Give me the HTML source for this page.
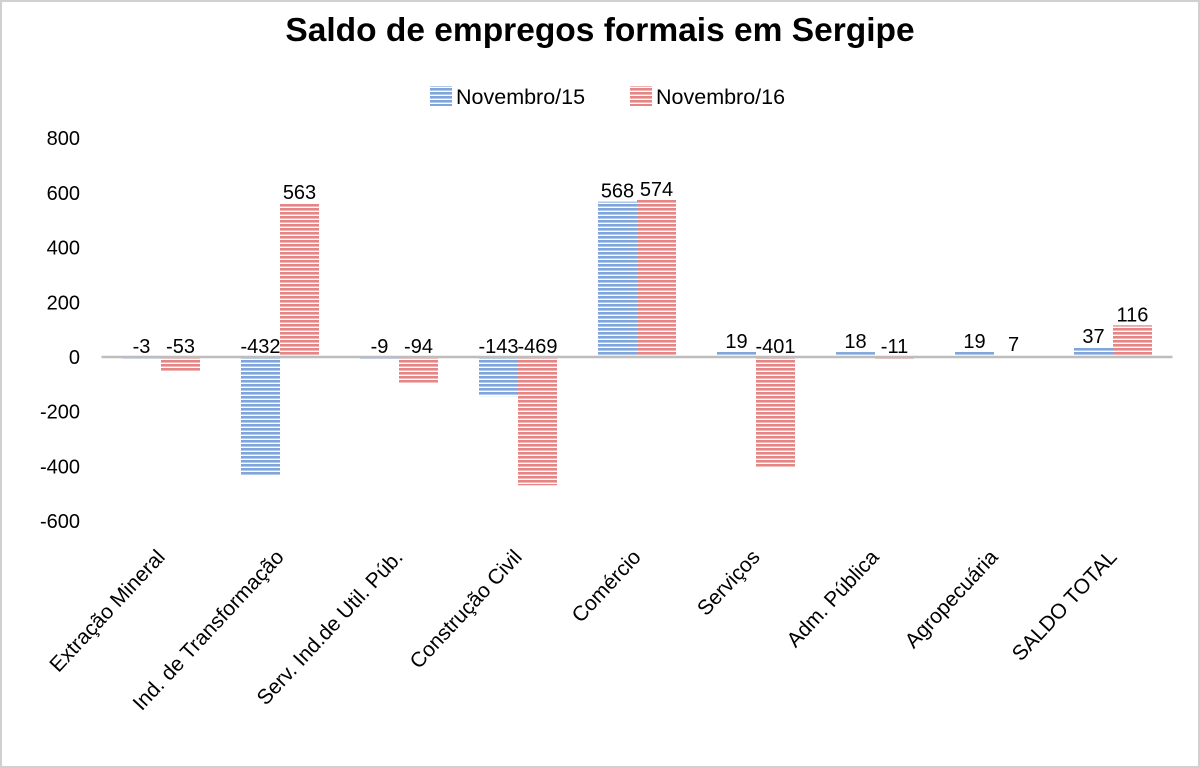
<!DOCTYPE html>
<html><head><meta charset="utf-8"><style>
html,body{margin:0;padding:0;background:#fff;}
svg{display:block;font-family:"Liberation Sans",sans-serif;}
</style></head><body>
<svg id="chart" width="1200" height="768" viewBox="0 0 1200 768" xmlns="http://www.w3.org/2000/svg">
<defs>
<pattern id="pb" width="6" height="4" patternUnits="userSpaceOnUse"><rect width="6" height="4" fill="#fff"/><rect width="6" height="2.6" fill="#7fa5dc"/></pattern>
<pattern id="pr" width="6" height="4" patternUnits="userSpaceOnUse"><rect width="6" height="4" fill="#fff"/><rect width="6" height="2.6" fill="#e58585"/></pattern>
</defs>
<rect x="1" y="1" width="1198" height="766" fill="#fff" stroke="#d0d0d0" stroke-width="2"/>
<text x="600" y="41" text-anchor="middle" font-size="33.5" font-weight="bold" fill="#000">Saldo de empregos formais em Sergipe</text>
<g>
<rect x="430" y="86" width="22" height="20" fill="url(#pb)"/>
<text x="456" y="104" font-size="21.5">Novembro/15</text>
<rect x="630" y="86" width="22" height="20" fill="url(#pr)"/>
<text x="656" y="104" font-size="21.5">Novembro/16</text>
</g>
<g id="yaxis"></g>
<g id="bars"></g>
<g id="xaxis"></g>
</svg>
<script>
const categories=["Extração Mineral","Ind. de Transformação","Serv. Ind.de Util. Púb.","Construção Civil","Comércio","Serviços","Adm. Pública","Agropecuária","SALDO TOTAL"];
const nov15=[-3,-432,-9,-143,568,19,18,19,37];
const nov16=[-53,563,-94,-469,574,-401,-11,7,116];
const yTicks=[800,600,400,200,0,-200,-400,-600];
const NS="http://www.w3.org/2000/svg";
const plotL=101.5, step=119, zeroY=357, k=0.2735, bw=39;
const y=v=>zeroY-v*k;
const xc=i=>plotL+step*(i+0.5);
function mk(tag,attrs,parent,txt){const e=document.createElementNS(NS,tag);for(const a in attrs)e.setAttribute(a,attrs[a]);if(txt!==undefined)e.textContent=txt;parent.appendChild(e);return e;}
const ya=document.getElementById('yaxis'),bars=document.getElementById('bars'),xa=document.getElementById('xaxis');
yTicks.forEach(t=>{
  const e=mk('text',{x:80,y:y(t)+7,'text-anchor':'end','font-size':20,fill:'#000'},ya,String(t));
  
  
});
[[nov15,'url(#pb)',-1],[nov16,'url(#pr)',0]].forEach(([vals,fill,off])=>{
  vals.forEach((v,i)=>{
    const x=xc(i)+off*bw;
    const r=mk('rect',{x:x,y:Math.min(y(v),zeroY),width:bw,height:Math.max(1.5,Math.abs(v*k)),fill:fill},bars);
    
    
    const ly=v>=0?y(v)-4:zeroY-4;
    const l=mk('text',{x:x+bw/2,y:ly,'text-anchor':'middle','font-size':20,fill:'#000'},bars,String(v));
    
    
  });
});
const zl=mk('line',{x1:plotL,x2:plotL+step*categories.length,y1:zeroY,y2:zeroY,stroke:'#bdbdbd','stroke-width':2.5},xa);


categories.forEach((c,i)=>{
  const px=xc(i)+5, py=558;
  const t=mk('text',{x:px,y:py,'text-anchor':'end','font-size':21,fill:'#000',transform:`rotate(-47 ${px} ${py})`},xa,c);
  
  
});
</script>
</body></html>
